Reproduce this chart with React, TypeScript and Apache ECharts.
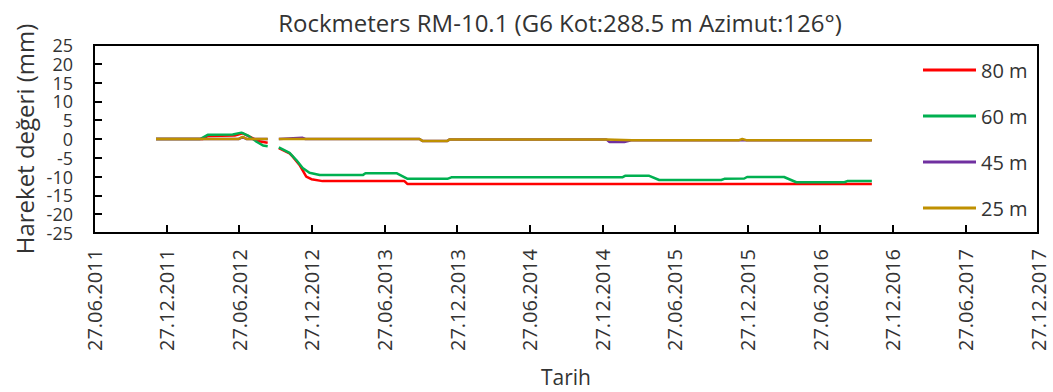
import React, { useEffect, useRef } from "react";
import * as echarts from "echarts";

const START_DATE = "2011-06-27";
const END_DATE = "2017-12-27";

const tickLabels = [
  "27.06.2011", "27.12.2011", "27.06.2012", "27.12.2012", "27.06.2013",
  "27.12.2013", "27.06.2014", "27.12.2014", "27.06.2015", "27.12.2015",
  "27.06.2016", "27.12.2016", "27.06.2017", "27.12.2017",
];
const yTickLabels = ["-25", "-20", "-15", "-10", "-5", "0", "5", "10", "15", "20", "25"];

const seriesNames = ["80 m", "60 m", "45 m", "25 m"];
const seriesColors = ["#FF0000", "#00B050", "#7030A0", "#BF9000"];

// 80 m
const dates80 = [
  "2011-11-30", "2012-03-27", "2012-04-08", "2012-06-15", "2012-07-05", "2012-07-25",
  "2012-08-15", "2012-09-06", "2012-09-20", "2012-10-04", "2012-10-31", "2012-11-08",
  "2012-11-25", "2012-12-12", "2012-12-25", "2013-01-22", "2013-08-16", "2013-08-24",
  "2016-11-04",
];
const values80 = [
  0, 0, 0.8, 0.9, 1.5, 0.5,
  -0.6, -1.0, null, -2.4, -3.8, -4.7,
  -6.9, -10.0, -10.7, -11.2, -11.2, -12.0,
  -12.0,
];

// 60 m
const dates60 = [
  "2011-11-30", "2012-03-20", "2012-04-08", "2012-06-10", "2012-07-02", "2012-07-20",
  "2012-08-10", "2012-08-25", "2012-09-06", "2012-09-20", "2012-10-04", "2012-10-31",
  "2012-11-17", "2012-12-03", "2012-12-20", "2013-01-15", "2013-05-03", "2013-05-10",
  "2013-07-27", "2013-08-24", "2013-12-02", "2013-12-12", "2015-02-15", "2015-02-22",
  "2015-04-24", "2015-05-19", "2015-10-22", "2015-10-30", "2015-12-19", "2015-12-26",
  "2016-03-28", "2016-04-28", "2016-08-27", "2016-09-03", "2016-11-04",
];
const values60 = [
  0, 0, 1.1, 1.2, 1.7, 0.8,
  -0.8, -1.7, -1.9, null, -2.2, -3.7,
  -5.6, -7.7, -9.0, -9.6, -9.6, -9.1,
  -9.1, -10.6, -10.6, -10.2, -10.2, -9.8,
  -9.8, -10.9, -10.9, -10.6, -10.5, -10.1,
  -10.1, -11.5, -11.5, -11.2, -11.2,
];

// 45 m
const dates45 = [
  "2011-11-30", "2012-06-25", "2012-07-05", "2012-07-15", "2012-09-06", "2012-09-20",
  "2012-10-04", "2012-12-03", "2012-12-10", "2013-09-23", "2013-09-30", "2013-12-02",
  "2013-12-08", "2015-01-06", "2015-01-14", "2015-02-20", "2015-03-12", "2016-11-04",
];
const values45 = [
  0, 0, 0.5, 0, 0, null,
  0, 0.3, 0, 0, -0.5, -0.5,
  -0.1, -0.1, -0.8, -0.8, -0.3, -0.3,
];

// 25 m
const dates25 = [
  "2011-11-30", "2012-06-25", "2012-07-05", "2012-07-15", "2012-09-06", "2012-09-20",
  "2012-10-04", "2013-09-23", "2013-09-30", "2013-12-02", "2013-12-08", "2015-01-06",
  "2015-03-12", "2015-12-06", "2015-12-14", "2015-12-24", "2016-11-04",
];
const values25 = [
  0, 0, 0.6, 0, 0, null,
  0, 0, -0.5, -0.5, -0.1, -0.1,
  -0.3, -0.3, 0, -0.3, -0.3,
];

const FONT = "'Open Sans', sans-serif";
const TEXT = "#333333";

const GRID_LEFT = 94;
const GRID_RIGHT = 15;
const GRID_TOP = 45;
const GRID_BOTTOM = 159;
const W = 1053;
const H = 392;
const FRAME = 2;

const dayMs = 86400000;
const toDays = (d: string) => (Date.parse(d + "T00:00:00Z") - Date.parse(START_DATE + "T00:00:00Z")) / dayMs;
const totalDays = toDays(END_DATE);
const xInterval = totalDays / (tickLabels.length - 1);

const build = (dates: string[], values: (number | null)[]) =>
  dates.map((d, i) => [toDays(d), values[i] === null ? "-" : values[i]]);

const tickStyle = { show: true, inside: true, length: 8, lineStyle: { color: "#000000", width: 2 } };
const axisLineStyle = { show: true, onZero: false, lineStyle: { color: "#000000", width: 2 } };

const plotW = W - GRID_LEFT - GRID_RIGHT;
const plotH = H - GRID_TOP - GRID_BOTTOM;
const frameRects = [
  { x: GRID_LEFT - FRAME / 2, y: GRID_TOP - FRAME / 2, width: plotW + FRAME, height: FRAME },
  { x: GRID_LEFT - FRAME / 2, y: GRID_TOP + plotH - FRAME / 2, width: plotW + FRAME, height: FRAME },
  { x: GRID_LEFT - FRAME / 2, y: GRID_TOP - FRAME / 2, width: FRAME, height: plotH + FRAME },
  { x: GRID_LEFT + plotW - FRAME / 2, y: GRID_TOP - FRAME / 2, width: FRAME, height: plotH + FRAME },
];

export default function App() {
  const ref = useRef<HTMLDivElement>(null);
  useEffect(() => {
    if (!ref.current) return;
    const chart = echarts.init(ref.current, null, { renderer: "svg" });
    const allDates = [dates80, dates60, dates45, dates25];
    const allValues = [values80, values60, values45, values25];
    chart.setOption({
      animation: false,
      backgroundColor: "#ffffff",
      title: {
        text: "Rockmeters RM-10.1 (G6 Kot:288.5 m Azimut:126°)",
        left: 555,
        top: 5,
        textAlign: "center",
        textStyle: { fontFamily: FONT, fontSize: 24, fontWeight: "normal", color: TEXT },
      },
      grid: {
        left: GRID_LEFT,
        right: GRID_RIGHT,
        top: GRID_TOP,
        bottom: GRID_BOTTOM,
        containLabel: false,
      },
      graphic: frameRects.map((r) => ({
        type: "rect",
        z: 100,
        silent: true,
        shape: r,
        style: { fill: "#000000" },
      })),
      legend: {
        orient: "vertical",
        left: 918,
        top: 53,
        icon: "rect",
        itemWidth: 53,
        itemHeight: 3,
        itemGap: 22,
        textStyle: { fontFamily: FONT, fontSize: 20, color: TEXT, lineHeight: 24 },
        data: seriesNames,
      },
      xAxis: {
        type: "value",
        min: 0,
        max: totalDays,
        interval: xInterval,
        name: "Tarih",
        nameLocation: "middle",
        nameGap: 133,
        nameTextStyle: { fontFamily: FONT, fontSize: 21, color: TEXT },
        axisLine: axisLineStyle,
        axisTick: tickStyle,
        splitLine: { show: false },
        axisLabel: {
          rotate: 90,
          margin: 16,
          fontFamily: FONT,
          fontSize: 20,
          color: TEXT,
          showMinLabel: true,
          showMaxLabel: true,
          formatter: (v: number) => tickLabels[Math.round(v / xInterval)] ?? "",
        },
      },
      yAxis: [
        {
          type: "value",
          min: -25,
          max: 25,
          interval: 5,
          name: "Hareket değeri (mm)",
          nameLocation: "middle",
          nameRotate: 90,
          nameGap: 58,
          nameTextStyle: { fontFamily: FONT, fontSize: 24, color: TEXT },
          axisLine: axisLineStyle,
          axisTick: tickStyle,
          splitLine: { show: false },
          axisLabel: { show: false },
        },
        {
          type: "category",
          position: "left",
          data: yTickLabels,
          boundaryGap: false,
          axisLine: { show: false },
          axisTick: { show: false },
          splitLine: { show: false },
          axisLabel: {
            interval: 0,
            margin: 21,
            fontFamily: FONT,
            fontSize: 18,
            lineHeight: 16,
            color: TEXT,
          },
        },
      ],
      series: seriesNames.map((name, i) => ({
        name,
        type: "line",
        data: build(allDates[i], allValues[i]),
        showSymbol: false,
        symbol: "none",
        connectNulls: false,
        color: seriesColors[i],
        lineStyle: { color: seriesColors[i], width: 2.5 },
        z: 2 + i,
      })),
    });
    return () => chart.dispose();
  }, []);
  return <div ref={ref} style={{ position: "absolute", left: 0, top: 0, width: W, height: H }} />;
}
